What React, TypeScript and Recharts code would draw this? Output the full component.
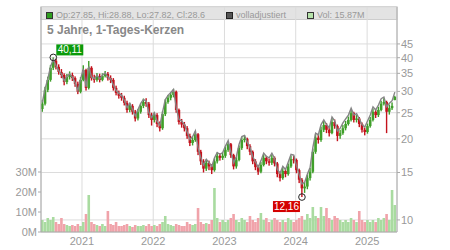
import React from "react";
import {
  ComposedChart,
  Bar,
  Line,
  XAxis,
  YAxis,
  CartesianGrid,
  ReferenceDot,
} from "recharts";

// two-week candles
const DAY = 86400000;
const START = Date.UTC(2020, 5, 12);
const STEP_DAYS = 14;
const T0 = Date.UTC(2020, 5, 5);
const T1 = Date.UTC(2025, 5, 3);

const opens = [
  25.8, 27.0, 30.4, 33.1, 36.7, 39.0, 37.0, 35.4, 34.5, 32.5, 33.9, 34.5, 33.6, 32.0, 29.9, 33.1, 36.0, 30.9, 36.7, 33.6,
  33.1, 34.2, 33.1, 34.2, 34.8, 33.6, 33.1, 30.9, 29.6, 28.9, 28.4, 27.2, 25.6, 26.5, 25.2, 23.8, 25.2, 26.5, 27.4, 27.0,
  24.5, 23.5, 24.5, 22.7, 21.9, 24.7, 27.4, 28.4, 29.1, 29.9, 25.6, 23.1, 22.6, 21.9, 20.5, 19.3, 19.8, 20.8, 17.9, 16.5,
  15.5, 16.3, 15.8, 15.3, 16.5, 17.3, 17.0, 17.3, 18.2, 19.1, 17.4, 15.8, 16.7, 18.5, 19.8, 20.0, 18.8, 17.9, 16.5, 15.7,
  15.1, 16.0, 17.0, 16.5, 16.3, 17.0, 16.2, 14.8, 14.3, 15.2, 14.8, 15.8, 16.8, 16.7, 15.3, 14.1, 13.1, 13.3, 14.3, 15.1,
  17.9, 20.2, 19.8, 21.6, 22.5, 21.6, 21.0, 23.1, 22.3, 20.5, 21.0, 21.9, 22.7, 23.5, 24.9, 23.5, 23.8, 22.7, 21.6, 21.2,
  22.3, 23.5, 25.2, 24.5, 25.6, 27.0, 27.4, 25.2, 26.0, 27.85,
];
const highs = [
  27.9, 31.2, 34.0, 37.6, 40.11, 39.6, 37.8, 36.3, 35.0, 34.8, 35.6, 35.2, 34.1, 32.6, 33.9, 37.5, 36.4, 38.9, 37.2, 34.6,
  35.1, 34.9, 35.0, 35.7, 35.4, 34.4, 33.6, 31.5, 30.2, 29.6, 28.9, 27.7, 27.2, 26.9, 25.6, 25.8, 27.1, 28.2, 28.3, 27.4,
  25.0, 25.1, 24.9, 23.2, 25.3, 28.0, 29.1, 29.8, 30.6, 30.2, 25.9, 23.7, 23.1, 22.3, 20.9, 20.3, 21.3, 21.0, 18.2, 16.8,
  16.8, 16.6, 16.1, 16.9, 17.8, 17.7, 17.8, 18.7, 19.6, 19.3, 17.6, 17.1, 18.9, 20.3, 20.6, 20.2, 19.1, 18.1, 16.8, 16.0,
  16.4, 17.5, 17.3, 16.9, 17.5, 17.2, 16.4, 15.1, 15.6, 15.5, 16.2, 17.3, 17.3, 16.9, 15.5, 14.3, 13.8, 14.7, 15.6, 18.4,
  20.8, 20.9, 22.2, 23.3, 22.9, 22.0, 23.8, 23.6, 22.6, 21.6, 22.5, 23.3, 24.2, 25.6, 25.2, 24.5, 24.1, 23.0, 22.0, 22.8,
  24.1, 25.9, 25.7, 26.3, 27.7, 28.3, 27.7, 26.8, 27.3, 28.88,
];
const lows = [
  25.2, 26.6, 29.8, 32.6, 36.0, 36.2, 34.6, 33.6, 31.6, 31.9, 33.2, 32.8, 31.2, 29.3, 29.5, 32.7, 30.2, 30.5, 32.9, 32.3,
  32.6, 32.4, 32.7, 33.8, 32.9, 32.2, 30.2, 29.0, 28.2, 27.7, 26.6, 25.0, 25.1, 24.6, 23.2, 23.4, 24.8, 26.0, 26.3, 23.9,
  22.4, 23.0, 22.1, 21.3, 21.6, 24.3, 27.0, 27.8, 28.5, 25.0, 22.6, 22.0, 21.3, 20.0, 18.8, 18.9, 19.5, 17.4, 16.0, 15.0,
  15.2, 15.3, 14.8, 15.1, 16.2, 16.6, 16.7, 17.0, 17.9, 17.0, 15.4, 15.5, 16.5, 18.2, 19.4, 18.3, 17.4, 16.1, 15.3, 14.7,
  14.9, 15.8, 16.1, 15.9, 16.0, 15.8, 14.4, 13.9, 14.1, 14.4, 14.6, 15.6, 16.2, 14.9, 13.7, 12.16, 12.6, 13.0, 14.0, 14.9,
  17.6, 19.2, 19.5, 21.2, 21.0, 20.4, 20.8, 21.8, 19.6, 20.0, 20.7, 21.5, 22.4, 23.2, 23.0, 23.0, 22.1, 21.1, 20.6, 20.9,
  22.0, 23.2, 23.9, 24.1, 25.3, 26.6, 21.0, 24.6, 25.6, 27.82,
];
const closes = [
  27.0, 30.4, 33.1, 36.7, 39.0, 37.0, 35.4, 34.5, 32.5, 33.9, 34.5, 33.6, 32.0, 29.9, 33.1, 36.0, 30.9, 36.7, 33.6, 33.1,
  34.2, 33.1, 34.2, 34.8, 33.6, 33.1, 30.9, 29.6, 28.9, 28.4, 27.2, 25.6, 26.5, 25.2, 23.8, 25.2, 26.5, 27.4, 27.0, 24.5,
  23.5, 24.5, 22.7, 21.9, 24.7, 27.4, 28.4, 29.1, 29.9, 25.6, 23.1, 22.6, 21.9, 20.5, 19.3, 19.8, 20.8, 17.9, 16.5, 15.5,
  16.3, 15.8, 15.3, 16.5, 17.3, 17.0, 17.3, 18.2, 19.1, 17.4, 15.8, 16.7, 18.5, 19.8, 20.0, 18.8, 17.9, 16.5, 15.7, 15.1,
  16.0, 17.0, 16.5, 16.3, 17.0, 16.2, 14.8, 14.3, 15.2, 14.8, 15.8, 16.8, 16.7, 15.3, 14.1, 13.1, 13.3, 14.3, 15.1, 17.9,
  20.2, 19.8, 21.6, 22.5, 21.6, 21.0, 23.1, 22.3, 20.5, 21.0, 21.9, 22.7, 23.5, 24.9, 23.5, 23.8, 22.7, 21.6, 21.2, 22.3,
  23.5, 25.2, 24.5, 25.6, 27.0, 27.4, 25.2, 26.0, 26.5, 28.6,
];
// "volladjustiert" grey line
const adjCloses = [
  27.3, 30.7, 33.4, 37.1, 39.4, 37.4, 35.8, 34.8, 32.8, 34.2, 34.8, 33.9, 32.3, 30.2, 33.4, 36.4, 31.2, 37.1, 33.9, 33.4,
  34.5, 33.4, 34.5, 35.1, 33.9, 33.4, 31.6, 30.2, 29.5, 29.0, 27.8, 26.1, 27.1, 25.7, 24.3, 25.7, 27.1, 28.0, 27.6, 25.0,
  24.0, 25.0, 23.2, 22.4, 25.2, 28.0, 29.0, 29.7, 30.5, 26.1, 23.6, 23.3, 22.6, 21.2, 19.9, 20.4, 21.4, 18.5, 17.0, 16.0,
  16.8, 16.3, 15.8, 17.0, 17.8, 17.5, 17.8, 18.8, 19.7, 17.9, 16.3, 17.2, 19.1, 20.4, 20.6, 19.4, 18.6, 17.2, 16.4, 15.7,
  16.6, 17.7, 17.2, 17.0, 17.7, 16.9, 15.4, 14.9, 15.8, 15.4, 16.4, 17.5, 17.4, 15.9, 14.7, 13.6, 13.8, 14.8, 15.7, 18.6,
  21.0, 20.7, 22.6, 23.5, 22.6, 22.0, 24.1, 23.3, 21.4, 21.9, 22.9, 23.7, 24.5, 26.0, 24.5, 24.8, 23.7, 22.6, 22.1, 23.3,
  24.5, 26.3, 25.6, 26.7, 28.2, 28.6, 26.3, 27.1, 27.7, 29.8,
];
// volume in millions
const volumes = [
  6, 5, 7, 6, 7.5, 5, 4, 7, 4, 3.5, 3, 3.5, 3, 4, 3, 5, 9, 18.5, 5, 4,
  3.5, 3, 4, 3, 10.5, 4, 3.5, 5, 3, 3, 3.5, 4, 3, 2.5, 3.5, 3, 3, 3.5, 3, 4,
  3, 3.5, 3, 4, 5, 8, 4, 3.5, 3, 4, 3.5, 3, 3, 5, 4, 3.5, 4, 12, 5, 4,
  4.5, 4, 6, 22, 7, 5, 6, 5, 6, 7, 9, 6, 5, 7, 6, 5, 8, 6, 5, 7,
  9.5, 6, 7, 5, 6, 7, 6, 5, 6, 5, 7, 6, 5, 6, 7, 8, 6, 9, 7, 12.5,
  8, 7, 12.5, 8, 12, 7, 6, 8, 7, 6, 5, 6, 5, 7, 6, 5, 10.5, 6, 5, 6,
  5, 6, 5, 7, 6, 7, 9, 6, 21, 13.5,
];

const YEAR_TICKS = [2021, 2022, 2023, 2024, 2025].map((y) => Date.UTC(y, 0, 1));
const PRICE_TICKS = [10, 15, 20, 25, 30, 35, 40, 45];
const VOL_TICKS = [0, 10e6, 20e6, 30e6];
const HIGH = { idx: 4, value: 40.11, label: "40,11" };
const LOW = { idx: 95, value: 12.16, label: "12,16" };

const GREEN = "#3f9f2a";
const RED = "#c4121c";
const VOL_UP = "#a9dba0";
const VOL_DOWN = "#f0a3aa";
const FONT = '"Liberation Sans", Arial, sans-serif';

const data = closes.map((c, i) => ({
  t: START + i * STEP_DAYS * DAY,
  o: opens[i],
  h: highs[i],
  l: lows[i],
  c,
  adj: adjCloses[i],
  v: volumes[i] * 1e6,
}));

function Candle(props: any) {
  const { x, y, width, height, payload } = props;
  if (!payload || !isFinite(y) || !isFinite(height)) return null;
  const { o, h, l, c } = payload;
  const lh = Math.log(h);
  const span = lh - Math.log(l) || 1;
  const py = (v: number) => y + (height * (lh - Math.log(v))) / span;
  const color = c >= o ? GREEN : RED;
  const cx = x + width / 2;
  const top = py(Math.max(o, c));
  const bot = py(Math.min(o, c));
  return (
    <g>
      <rect x={cx - 0.7} y={y} width={1.4} height={height} fill={color} />
      <rect x={cx - 1.3} y={top} width={2.6} height={Math.max(1, bot - top)} fill={color} />
    </g>
  );
}

function VolBar(props: any) {
  const { x, y, width, height, payload } = props;
  if (!payload || !(height > 0)) return null;
  return (
    <rect x={x} y={y} width={width} height={height} fill={payload.c >= payload.o ? VOL_UP : VOL_DOWN} />
  );
}

const extremeShape = (label: string, bg: string, below: boolean) => (p: any) => {
  const { cx, cy } = p;
  const bx = below ? cx - 29 : cx + 3;
  const by = below ? cy + 4 : cy - 13;
  return (
    <g>
      <circle cx={cx} cy={cy} r={3.3} fill="none" stroke="#222" strokeWidth={1} />
      <rect x={bx} y={by} width={27} height={11} fill={bg} />
      <text x={bx + 13.5} y={by + 9} fill="#fff" fontSize={10} fontFamily={FONT} textAnchor="middle">
        {label}
      </text>
    </g>
  );
};

const tickStyle = { fill: "#999", fontSize: 11, fontFamily: FONT };

export default function App() {
  return (
    <div style={{ position: "absolute", left: 0, top: 0, width: 450, height: 250, background: "#fff" }}>
      <svg width={450} height={250} style={{ position: "absolute", left: 0, top: 0 }}>
        <rect x={41} y={6.5} width={356} height={13} fill="#e3e3e3" stroke="#cdcdcd" strokeWidth={1} />
      </svg>
      <div style={{ position: "absolute", left: 0, top: 0 }}>
        <ComposedChart width={450} height={250} data={data} margin={{ top: 7, right: 0, bottom: 0, left: 0 }}>
          <CartesianGrid xAxisId="x" yAxisId="price" stroke="#dcdcdc" />
          <XAxis
            xAxisId="x"
            dataKey="t"
            type="number"
            scale="time"
            domain={[T0, T1]}
            allowDataOverflow
            ticks={YEAR_TICKS}
            interval={0}
            tickFormatter={(v: number) => String(new Date(v).getUTCFullYear())}
            tickLine={false}
            tickSize={0}
            tickMargin={5}
            height={18}
            axisLine={{ stroke: "#aaa" }}
            tick={tickStyle}
          />
          <XAxis xAxisId="xv" dataKey="t" type="number" domain={[T0, T1]} allowDataOverflow hide />
          <YAxis
            yAxisId="price"
            orientation="right"
            scale="log"
            domain={[9.02, 61.7]}
            allowDataOverflow
            ticks={PRICE_TICKS}
            interval={0}
            width={53}
            tickSize={3}
            tickMargin={1}
            axisLine={{ stroke: "#aaa" }}
            tickLine={{ stroke: "#aaa" }}
            tick={tickStyle}
          />
          <YAxis
            yAxisId="vol"
            orientation="left"
            domain={[0, 112.5e6]}
            allowDataOverflow
            ticks={VOL_TICKS}
            interval={0}
            tickFormatter={(v: number) => `${v / 1e6}M`}
            width={41}
            tickSize={3}
            tickMargin={1}
            axisLine={{ stroke: "#aaa" }}
            tickLine={{ stroke: "#aaa" }}
            tick={tickStyle}
          />
          <Bar
            xAxisId="xv"
            yAxisId="vol"
            dataKey="v"
            barSize={2.6}
            shape={VolBar}
            isAnimationActive={false}
          />
          <Line
            xAxisId="x"
            yAxisId="price"
            dataKey="adj"
            stroke="#858585"
            strokeWidth={1.4}
            dot={false}
            isAnimationActive={false}
          />
          <Bar
            xAxisId="x"
            yAxisId="price"
            dataKey={(d: any) => [d.l, d.h]}
            barSize={2.6}
            shape={Candle}
            isAnimationActive={false}
          />
          <ReferenceDot
            xAxisId="x"
            yAxisId="price"
            x={data[HIGH.idx].t}
            y={HIGH.value}
            shape={extremeShape(HIGH.label, "#0a9a0a", false)}
          />
          <ReferenceDot
            xAxisId="x"
            yAxisId="price"
            x={data[LOW.idx].t}
            y={LOW.value}
            shape={extremeShape(LOW.label, "#d40000", true)}
          />
        </ComposedChart>
      </div>
      <svg
        width={450}
        height={250}
        style={{ position: "absolute", left: 0, top: 0, pointerEvents: "none" }}
        fontFamily={FONT}
      >
        <rect x={46.5} y={12.5} width={6} height={6} fill="#2f9e1f" stroke="#333" />
        <text x={56} y={17.5} fontSize={9} fill="#999">
          Op:27.85, Hi:28.88, Lo:27.82, Cl:28.6
        </text>
        <rect x={226.5} y={12.5} width={6} height={6} fill="#555" stroke="#222" />
        <text x={236} y={17.5} fontSize={9} fill="#999">
          volladjustiert
        </text>
        <rect x={307.5} y={12.5} width={6} height={6} fill="#b5e2a9" stroke="#333" />
        <text x={317} y={17.5} fontSize={9} fill="#999">
          Vol: 15.87M
        </text>
        <text x={47} y={34} fontSize={12} fontWeight="bold" fill="#888">
          5 Jahre, 1-Tages-Kerzen
        </text>
      </svg>
    </div>
  );
}
